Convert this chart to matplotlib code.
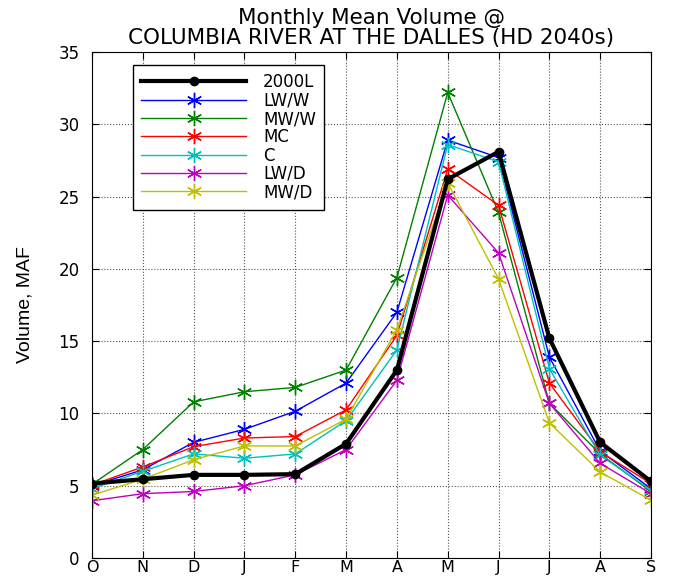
import matplotlib
matplotlib.use("Agg")
import matplotlib.pyplot as plt

months = ["O", "N", "D", "J", "F", "M", "A", "M", "J", "J", "A", "S"]
s_2000L = [5.15, 5.45, 5.75, 5.75, 5.8, 7.9, 13.0, 26.2, 28.1, 15.2, 8.0, 5.3]
s_LWW = [5.0, 6.1, 8.0, 8.9, 10.15, 12.1, 17.0, 28.9, 27.7, 13.9, 7.4, 4.8]
s_MWW = [5.1, 7.5, 10.8, 11.5, 11.8, 13.0, 19.4, 32.2, 23.9, 10.7, 7.2, 4.6]
s_MC = [5.05, 6.3, 7.7, 8.3, 8.4, 10.25, 15.4, 26.9, 24.4, 12.1, 7.35, 5.15]
s_C = [4.8, 6.0, 7.2, 6.9, 7.2, 9.5, 14.4, 28.6, 27.4, 13.1, 7.1, 4.7]
s_LWD = [3.96, 4.45, 4.6, 5.0, 5.75, 7.5, 12.3, 25.1, 21.1, 10.7, 6.55, 4.45]
s_MWD = [4.35, 5.45, 6.8, 7.75, 7.75, 9.6, 15.8, 25.95, 19.3, 9.35, 5.95, 4.0]

names = ["2000L", "LW/W", "MW/W", "MC", "C", "LW/D", "MW/D"]
series = [s_2000L, s_LWW, s_MWW, s_MC, s_C, s_LWD, s_MWD]
colors = ["black", "#0000ff", "#008000", "#ff0000", "#00bfbf", "#bf00bf", "#bfbf00"]

plt.rcParams['font.family'] = ['DejaVu Sans']

fig = plt.figure(figsize=(6.85, 5.77), dpi=100)
ax = fig.add_axes([92/685, 19/577, 559/685, 506/577])
x = list(range(len(months)))
for name, vals, c in zip(names, series, colors):
    if name == "2000L":
        ax.plot(x, vals, color=c, lw=3, marker='o', ms=5.5, mew=1.5, label=name, zorder=5)
    else:
        ax.plot(x, vals, color=c, lw=1, marker=(6, 2, 0), ms=11, mew=1, label=name)

ax.set_xlim(0, 11)
ax.set_ylim(0, 35)
ax.set_xticks(x)
ax.set_xticklabels(months, fontsize=11.5)
ax.set_yticks(range(0, 36, 5))
ax.tick_params(axis='both', direction='in', top=True, right=True, length=5)
ax.tick_params(axis='y', pad=9, labelsize=12)
ax.tick_params(axis='x', pad=1.5)
ax.grid(True, linestyle=':', color='#555555', lw=0.8)
ax.set_ylabel("Volume, MAF", fontsize=14, family='Liberation Sans', labelpad=18)
ax.set_title("Monthly Mean Volume @\nCOLUMBIA RIVER AT THE DALLES (HD 2040s)", fontsize=15.5,
             linespacing=0.95, pad=6)
leg = ax.legend(loc='upper left', bbox_to_anchor=(41/559, 493/506), borderaxespad=0,
                fontsize=12, fancybox=False, edgecolor='black', framealpha=1,
                handlelength=6.3, labelspacing=0.02, borderpad=0.5, handletextpad=1.0)
leg.get_frame().set_linewidth(1)
fig.savefig("out.png", dpi=100)
